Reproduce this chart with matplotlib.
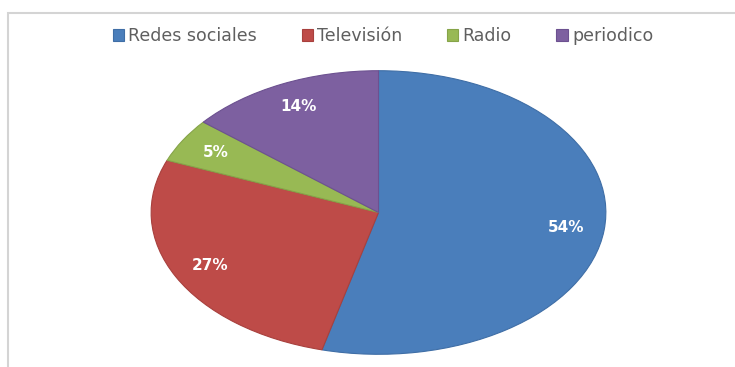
import matplotlib
matplotlib.use("Agg")
import matplotlib.pyplot as plt
from matplotlib.patches import Rectangle

# media share survey
medios = ["Redes sociales", "Televisión", "Radio", "periodico"]
porcentajes = [54, 27, 5, 14]
colores = ["#4a7ebb", "#be4b48", "#98b954", "#7d60a0"]
bordes = ["#3f6ea6", "#a8403d", "#86a449", "#6c5190"]

fig = plt.figure(figsize=(7.35, 3.67), dpi=100)
fig.patch.set_facecolor("white")

# light chart frame
fig.add_artist(Rectangle((8 / 735, -0.05), 1.0, (367 - 13) / 367 + 0.05,
                         transform=fig.transFigure, fill=False,
                         edgecolor="#d4d4d4", linewidth=1.5))

ax = fig.add_axes([150 / 735, 12 / 367, 457 / 735, 285 / 367])
wedges, _, autotexts = ax.pie(
    porcentajes, colors=colores, startangle=90, counterclock=False,
    autopct="%d%%", pctdistance=0.83, radius=1.0,
    wedgeprops=dict(linewidth=0.8),
    textprops=dict(color="white", fontsize=11, fontweight="bold"))
for w, ec in zip(wedges, bordes):
    w.set_edgecolor(ec)
ax.set_aspect("auto")
ax.set_xlim(-1.005, 1.005)
ax.set_ylim(-1.005, 1.005)
ax.axis("off")

fig.legend(wedges, medios, loc="center", bbox_to_anchor=(383 / 735, 1 - 36 / 367),
           ncol=4, frameon=False, fontsize=12.5, handlelength=0.65, handleheight=0.65,
           handletextpad=0.25, columnspacing=2.57, labelcolor="#5f5f5f")

fig.savefig("out.png", dpi=100, facecolor="white")
